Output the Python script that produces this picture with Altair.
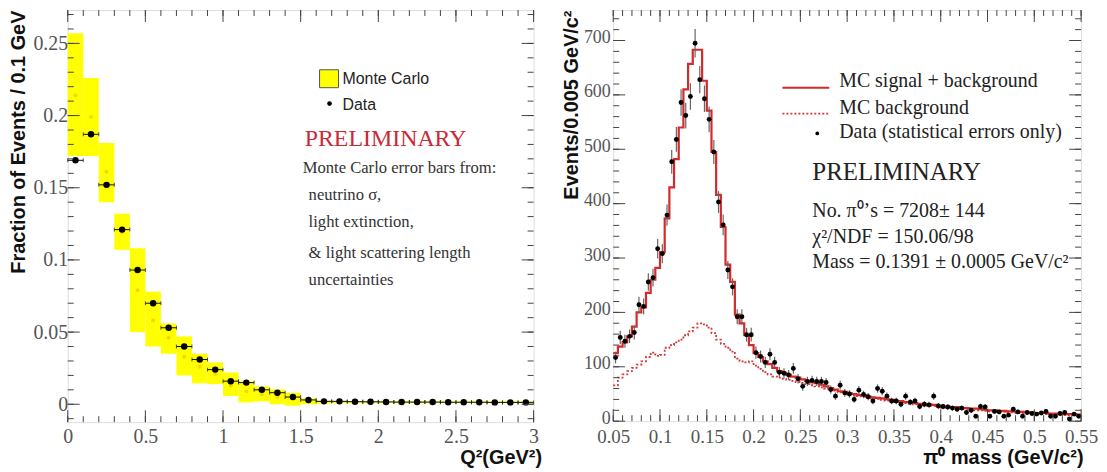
import altair as alt
import pandas as pd

# ---------------- left panel: Q^2 distribution ----------------
q2_lo = [0.0, 0.1, 0.2, 0.3, 0.4, 0.5, 0.6, 0.7, 0.8, 0.9,
         1.0, 1.1, 1.2, 1.3, 1.4, 1.5, 1.6, 1.7, 1.8, 1.9,
         2.0, 2.1, 2.2, 2.3, 2.4, 2.5, 2.6, 2.7, 2.8, 2.9]
q2_hi = [0.1, 0.2, 0.3, 0.4, 0.5, 0.6, 0.7, 0.8, 0.9, 1.0,
         1.1, 1.2, 1.3, 1.4, 1.5, 1.6, 1.7, 1.8, 1.9, 2.0,
         2.1, 2.2, 2.3, 2.4, 2.5, 2.6, 2.7, 2.8, 2.9, 3.0]
q2_mid = [0.05, 0.15, 0.25, 0.35, 0.45, 0.55, 0.65, 0.75, 0.85, 0.95,
          1.05, 1.15, 1.25, 1.35, 1.45, 1.55, 1.65, 1.75, 1.85, 1.95,
          2.05, 2.15, 2.25, 2.35, 2.45, 2.55, 2.65, 2.75, 2.85, 2.95]
data_frac = [0.169, 0.187, 0.152, 0.121, 0.093, 0.070, 0.053, 0.040, 0.031, 0.024,
             0.016, 0.015, 0.010, 0.008, 0.005, 0.003, 0.002, 0.002, 0.0018, 0.0017,
             0.0016, 0.0015, 0.0015, 0.0015, 0.0014, 0.0014, 0.0014, 0.0013, 0.0013, 0.0013]
mc_low = [0.172, 0.172, 0.140, 0.107, 0.050, 0.040, 0.035, 0.020, 0.0145, 0.014,
          0.0057, 0.0013, 0.002, 0.000, -0.001, 0.000, 0.0005, 0.0008, 0.0008, 0.0008,
          0.0008, 0.0008, 0.0008, 0.0008, 0.0008, 0.0008, 0.0008, 0.0008, 0.0008, 0.0008]
mc_high = [0.257, 0.226, 0.181, 0.132, 0.108, 0.078, 0.056, 0.047, 0.035, 0.029,
           0.022, 0.016, 0.0124, 0.0103, 0.008, 0.004, 0.0025, 0.002, 0.002, 0.002,
           0.002, 0.002, 0.002, 0.002, 0.002, 0.002, 0.002, 0.002, 0.002, 0.002]
mc_central = [0.214, 0.199, 0.161, 0.119, 0.079, 0.058, 0.046, 0.033, 0.026, 0.021,
              0.013, 0.009, 0.007, 0.005, 0.004, 0.002, 0.0015, 0.0014, 0.0014, 0.0013,
              0.0013, 0.0013, 0.0012, 0.0012, 0.0012, 0.0012, 0.0011, 0.0011, 0.0011, 0.0011]

left_x_labels = [0, 0.5, 1, 1.5, 2, 2.5, 3]
left_y_labels = [0, 0.05, 0.1, 0.15, 0.2, 0.25]
left_x_minor = [i / 10 for i in range(31)]
left_y_minor = [i / 100 for i in range(-1, 28)]

# ---------------- right panel: pi0 mass ----------------
mass_lo = [round(0.05 + 0.005 * i, 4) for i in range(100)]
mass_mid = [round(0.0525 + 0.005 * i, 4) for i in range(100)]
mc_total = [125, 137, 145, 156, 174, 200, 209, 236, 260, 282,
            311, 373, 430, 482, 540, 610, 657, 683, 683, 626,
            571, 495, 416, 357, 288, 256, 196, 180, 158, 140,
            125, 118, 110, 105, 98, 92, 89, 85, 82, 80,
            77, 74, 72, 70, 67, 64, 61, 58, 55, 54,
            51, 50, 48, 48, 45, 44, 43, 42, 40, 39,
            37, 37, 35, 35, 33, 32, 31, 31, 30, 28,
            27, 27, 26, 26, 24, 24, 23, 23, 22, 21,
            20, 20, 19, 19, 18, 18, 17, 17, 16, 16,
            15, 15, 15, 14, 14, 14, 13, 13, 13, 12]
mc_bkg = [66, 80, 86, 92, 98, 104, 110, 118, 126, 120,
          122, 135, 140, 145, 150, 158, 165, 172, 180, 178,
          172, 162, 150, 142, 135, 128, 115, 110, 108, 110,
          102, 96, 90, 86, 82, 80, 78, 76, 74, 72,
          70, 68, 66, 64, 62, 60, 58, 56, 53, 52,
          49, 48, 46, 45, 43, 42, 41, 39, 38, 37,
          35, 35, 33, 32, 31, 30, 29, 28, 28, 26,
          25, 25, 24, 23, 22, 22, 21, 20, 20, 19,
          18, 18, 17, 17, 16, 16, 15, 15, 14, 14,
          13, 13, 13, 12, 12, 12, 11, 11, 11, 10]
data_counts = [117, 154, 147, 156, 163, 214, 211, 256, 264, 317,
               308, 379, 477, 518, 586, 562, 597, 695, 628, 593,
               555, 495, 403, 361, 278, 247, 192, 192, 159, 159,
               126, 119, 108, 123, 108, 90, 88, 85, 97, 78,
               64, 73, 75, 73, 73, 71, 58, 46, 66, 52,
               50, 40, 57, 49, 45, 37, 60, 55, 46, 37,
               37, 31, 46, 35, 37, 27, 31, 30, 46, 28,
               27, 26, 24, 22, 24, 16, 20, 9, 27, 26,
               9, 18, 17, 9, 11, 22, 17, 9, 16, 14,
               13, 15, 18, 9, 9, 14, 16, 4, 13, 9]

right_x_labels = [0.05, 0.1, 0.15, 0.2, 0.25, 0.3, 0.35, 0.4, 0.45, 0.5, 0.55]
right_y_labels = [0, 100, 200, 300, 400, 500, 600, 700]
right_x_minor = [round(0.05 + 0.01 * i, 3) for i in range(51)]
right_y_minor = [20 * i for i in range(38)]

SERIF = "Liberation Serif"
SANS = "Liberation Sans"
FRAME = "#444444"
RED = "#d42a2a"


def frame_ticks(xs, ys, axx, axy, xmaj, xmin, ymaj, ymin, W, H, Lmaj, Lmin):
    layers = []
    for vals, L in ((xmaj, Lmaj), (xmin, Lmin)):
        base = alt.Chart(pd.DataFrame({"v": vals})).mark_rule(color=FRAME, strokeWidth=1)
        layers.append(base.encode(x=alt.X("v:Q", scale=xs, axis=axx),
                                  y=alt.value(H), y2=alt.value(H - L)))
        layers.append(base.encode(x=alt.X("v:Q", scale=xs, axis=axx),
                                  y=alt.value(0), y2=alt.value(L)))
    for vals, L in ((ymaj, Lmaj), (ymin, Lmin)):
        base = alt.Chart(pd.DataFrame({"v": vals})).mark_rule(color=FRAME, strokeWidth=1)
        layers.append(base.encode(y=alt.Y("v:Q", scale=ys, axis=axy),
                                  x=alt.value(0), x2=alt.value(L)))
        layers.append(base.encode(y=alt.Y("v:Q", scale=ys, axis=axy),
                                  x=alt.value(W), x2=alt.value(W - L)))
    return layers


def label(txt, x, y, size, font=SERIF, color="#222222", weight="normal", baseline="alphabetic"):
    return alt.Chart(pd.DataFrame({"t": [txt]})).mark_text(
        align="left", baseline=baseline, font=font, fontSize=size,
        color=color, fontWeight=weight
    ).encode(x=alt.value(x), y=alt.value(y), text="t:N")


# ---------- left chart ----------
LW, LH = 468, 414
lxs = alt.Scale(domain=[0, 3], nice=False, zero=False)
lys = alt.Scale(domain=[-0.0124, 0.2731], nice=False, zero=False)

left_df = pd.DataFrame({"lo": q2_lo, "hi": q2_hi, "mid": q2_mid, "data": data_frac,
                        "mclo": mc_low, "mchi": mc_high, "mc": mc_central})

ax_lx = alt.Axis(values=left_x_labels, format="~g", ticks=False, domain=False, grid=False,
                 labelFont=SERIF, labelFontSize=20, labelColor="#555555", labelPadding=4,
                 labelFlush=False, labelOverlap=False,
                 title="Q²(GeV²)", titleFont=SANS, titleFontSize=20, titleFontWeight="bold",
                 titleColor="#111111", titleX=LW + 8, titleY=42, titleAlign="right",
                 titleBaseline="alphabetic")
ax_ly = alt.Axis(values=left_y_labels, format="~g", ticks=False, domain=False, grid=False,
                 labelFont=SERIF, labelFontSize=20, labelColor="#555555", labelPadding=0,
                 labelOverlap=False, minExtent=37, maxExtent=37,
                 title="Fraction of Events / 0.1 GeV", titleFont=SANS, titleFontSize=20,
                 titleFontWeight="bold", titleColor="#111111", titleAnchor="end", titlePadding=2)

LX = dict(scale=lxs, axis=ax_lx)
LY = dict(scale=lys, axis=ax_ly)

bands = alt.Chart(left_df).mark_rect(color="#ffff00").encode(
    x=alt.X("lo:Q", **LX), x2="hi:Q",
    y=alt.Y("mclo:Q", **LY), y2="mchi:Q")
mc_pts = alt.Chart(left_df).mark_point(filled=True, color="#f0b400", size=16, opacity=0.55).encode(
    x=alt.X("mid:Q", **LX), y=alt.Y("mc:Q", **LY))
hbars = alt.Chart(left_df).mark_rule(color="#111111", strokeWidth=1).encode(
    x=alt.X("lo:Q", **LX), x2="hi:Q", y=alt.Y("data:Q", **LY))
cap_lo = alt.Chart(left_df).mark_tick(orient="vertical", size=4, thickness=1, color="#111111").encode(
    x=alt.X("lo:Q", **LX), y=alt.Y("data:Q", **LY))
cap_hi = alt.Chart(left_df).mark_tick(orient="vertical", size=4, thickness=1, color="#111111").encode(
    x=alt.X("hi:Q", **LX), y=alt.Y("data:Q", **LY))
dots = alt.Chart(left_df).mark_circle(color="#000000", size=42, opacity=1).encode(
    x=alt.X("mid:Q", **LX), y=alt.Y("data:Q", **LY))

leg_box = alt.Chart(pd.DataFrame({"a": [0]})).mark_rect(
    color="#ffff00", stroke="#555555", strokeWidth=1).encode(
    x=alt.value(253), x2=alt.value(272), y=alt.value(60), y2=alt.value(78))
leg_dot = alt.Chart(pd.DataFrame({"a": [0]})).mark_circle(color="#000000", size=22, opacity=1).encode(
    x=alt.value(263), y=alt.value(94))

left_layers = [bands, mc_pts, hbars, cap_lo, cap_hi, dots, leg_box, leg_dot,
               label("Monte Carlo", 276, 69, 16, font=SANS, baseline="middle"),
               label("Data", 276, 95, 16, font=SANS, baseline="middle"),
               label("PRELIMINARY", 238, 137, 24, color="#cc2936"),
               label("Monte Carlo error bars from:", 236, 164, 16.7, color="#333333"),
               label("neutrino σ,", 242, 191, 16.7, color="#333333"),
               label("light extinction,", 242, 218, 16.7, color="#333333"),
               label("& light scattering length", 242, 249, 16.7, color="#333333"),
               label("uncertainties", 242, 276, 16.7, color="#333333")]
left_layers += frame_ticks(lxs, lys, ax_lx, ax_ly, left_x_labels, left_x_minor,
                           left_y_labels, left_y_minor, LW, LH, 12, 6)
left_chart = alt.layer(*left_layers).properties(width=LW, height=LH)

# ---------- right chart ----------
RW, RH = 470, 413
rxs = alt.Scale(domain=[0.05, 0.55], nice=False, zero=False)
rys = alt.Scale(domain=[0, 756], nice=False, zero=False)

step_df = pd.DataFrame({"edge": mass_lo + [0.55],
                        "tot": mc_total + [mc_total[-1]],
                        "bkg": mc_bkg + [mc_bkg[-1]]})
pts_df = pd.DataFrame({"m": mass_mid, "n": data_counts})
pts_df["lo"] = pts_df["n"] - pts_df["n"] ** 0.5
pts_df["hi"] = pts_df["n"] + pts_df["n"] ** 0.5

ax_rx = alt.Axis(values=right_x_labels, format="~g", ticks=False, domain=False, grid=False,
                 labelFont=SERIF, labelFontSize=19, labelColor="#555555", labelPadding=6,
                 labelFlush=False, labelOverlap=False,
                 title="π⁰ mass (GeV/c²)", titleFont=SANS, titleFontSize=20, titleFontWeight="bold",
                 titleColor="#111111", titleX=RW + 2, titleY=43, titleAlign="right",
                 titleBaseline="alphabetic")
ax_ry = alt.Axis(values=right_y_labels, format="d", ticks=False, domain=False, grid=False,
                 labelFont=SERIF, labelFontSize=18, labelColor="#555555", labelPadding=3,
                 labelOffset=-3, labelOverlap=False, minExtent=30, maxExtent=30,
                 title="Events/0.005 GeV/c²", titleFont=SANS, titleFontSize=20,
                 titleFontWeight="bold", titleColor="#111111", titleAnchor="end", titlePadding=2)

RX = dict(scale=rxs, axis=ax_rx)
RY = dict(scale=rys, axis=ax_ry)

bkg_line = alt.Chart(step_df).mark_line(interpolate="step-after", color="#d03a3a",
                                        strokeWidth=1.8, strokeDash=[2, 2]).encode(
    x=alt.X("edge:Q", **RX), y=alt.Y("bkg:Q", **RY))
tot_line = alt.Chart(step_df).mark_line(interpolate="step-after", color=RED, strokeWidth=2.2).encode(
    x=alt.X("edge:Q", **RX), y=alt.Y("tot:Q", **RY))
ebars = alt.Chart(pts_df).mark_rule(color="#666666", strokeWidth=1.2).encode(
    x=alt.X("m:Q", **RX), y=alt.Y("lo:Q", **RY), y2="hi:Q")
rdots = alt.Chart(pts_df).mark_circle(color="#000000", size=24, opacity=1).encode(
    x=alt.X("m:Q", **RX), y=alt.Y("n:Q", **RY))

one = pd.DataFrame({"a": [0]})
leg_solid = alt.Chart(one).mark_rule(color=RED, strokeWidth=2).encode(
    x=alt.value(170), x2=alt.value(217), y=alt.value(78))
leg_dotted = alt.Chart(one).mark_rule(color="#d03a3a", strokeWidth=1.8, strokeDash=[2, 2]).encode(
    x=alt.value(170), x2=alt.value(217), y=alt.value(104))
leg_rdot = alt.Chart(one).mark_circle(color="#000000", size=14, opacity=1).encode(
    x=alt.value(205), y=alt.value(124))

right_layers = [bkg_line, tot_line, ebars, rdots, leg_solid, leg_dotted, leg_rdot,
                label("MC signal + background", 227, 77, 20),
                label("MC background", 227, 104, 20),
                label("Data (statistical errors only)", 227, 129, 20),
                label("PRELIMINARY", 200, 171, 25),
                label("No. π⁰’s = 7208± 144", 200, 208, 20),
                label("χ²/NDF = 150.06/98", 200, 234, 20),
                label("Mass = 0.1391 ± 0.0005 GeV/c²", 200, 259, 20)]
right_layers += frame_ticks(rxs, rys, ax_rx, ax_ry, right_x_labels, right_x_minor,
                            right_y_labels, right_y_minor, RW, RH, 12, 6)
right_chart = alt.layer(*right_layers).properties(width=RW, height=RH)

chart = alt.hconcat(left_chart, right_chart, spacing=80, bounds="flush", padding=0).configure_view(
    stroke=FRAME, strokeWidth=1.5
).configure(background="white")

chart.save("out.html", embed_options={"renderer": "svg", "actions": False})
